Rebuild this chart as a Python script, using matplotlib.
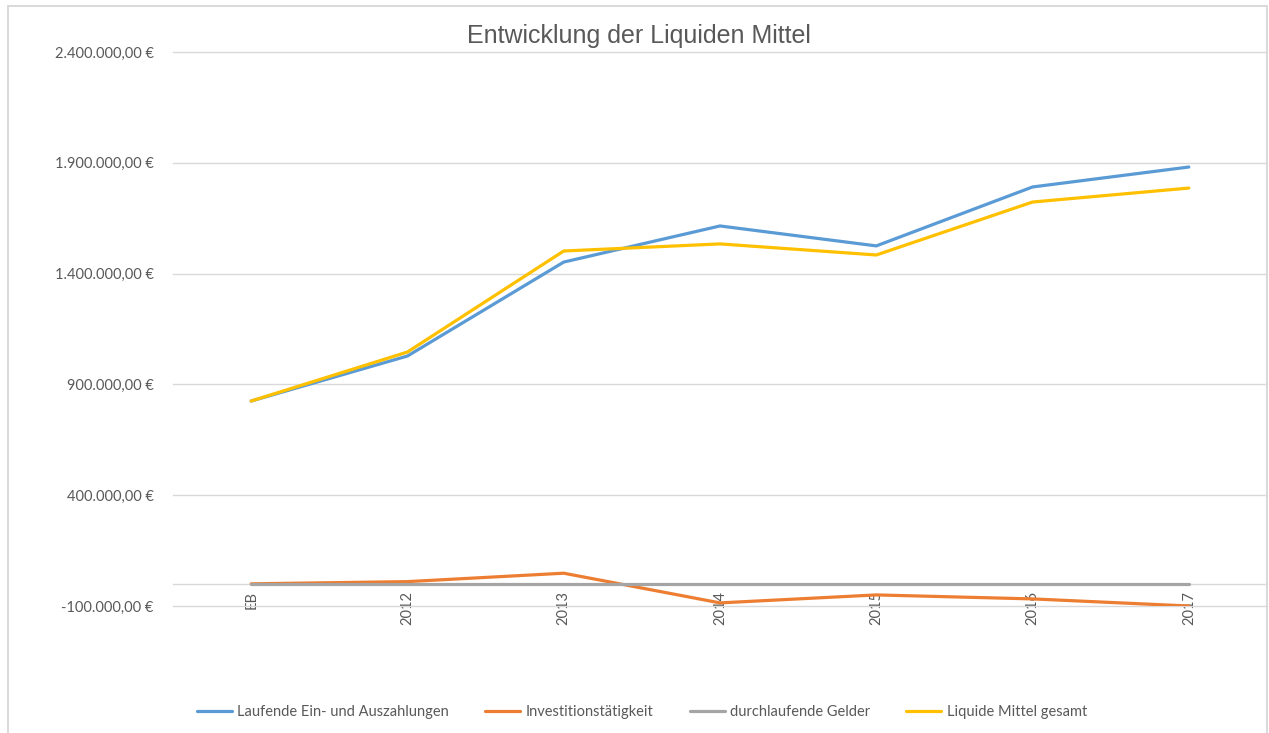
import matplotlib
matplotlib.use("Agg")
import matplotlib.pyplot as plt
from matplotlib.patches import Rectangle
from matplotlib.ticker import FuncFormatter

plt.rcParams['font.family'] = ['Lato', 'DejaVu Sans']

categories = ["EB", "2012", "2013", "2014", "2015", "2016", "2017"]
laufende = [825000, 1028000, 1452000, 1615000, 1525000, 1791000, 1881000]
investition = [0, 10000, 48000, -86000, -50000, -68000, -100000]
durchlaufend = [0, 0, 0, 0, 0, 0, 0]
liquide_gesamt = [825000, 1046000, 1502000, 1534000, 1484000, 1723000, 1786000]
yticks = [-100000, 400000, 900000, 1400000, 1900000, 2400000]

_BLUE, _ORANGE, _GRAY, _YELLOW = "#5B9BD5", "#ED7D31", "#A5A5A5", "#FFC000"
_TXT, _GRID = "#595959", "#D9D9D9"


def euro(v, pos=None):
    s = f"{v:,.2f}".replace(",", "X").replace(".", ",").replace("X", ".")
    return s + " €"


W, H = 1269, 733
fig = plt.figure(figsize=(W / 100, H / 100), dpi=100)
# light chart frame (top/left/right visible, bottom cropped)
fig.patches.append(Rectangle((8 / W, -0.05), 1259 / W, 1.05 - 6 / H, transform=fig.transFigure,
                             fill=False, ec=_GRID, lw=1.4))

ax = fig.add_axes([173 / W, 1 - 606 / H, (1267 - 173) / W, (606 - 52) / H])
x = range(len(categories))
for ys, c, lab in ((laufende, _BLUE, "Laufende Ein- und Auszahlungen"),
                   (investition, _ORANGE, "Investitionstätigkeit"),
                   (durchlaufend, _GRAY, "durchlaufende Gelder"),
                   (liquide_gesamt, _YELLOW, "Liquide Mittel gesamt")):
    ax.plot(x, ys, color=c, lw=2.3, label=lab, solid_capstyle="round", solid_joinstyle="round")

ax.set_xlim(-0.5, len(categories) - 0.5)
ax.set_ylim(yticks[0], yticks[-1])
ax.set_yticks(yticks)
ax.yaxis.set_major_formatter(FuncFormatter(euro))
ax.grid(axis="y", color=_GRID, lw=1.0)
for gl in ax.get_ygridlines():
    gl.set_clip_on(False)
ax.set_axisbelow(True)
for s in ("top", "right", "left"):
    ax.spines[s].set_visible(False)
ax.spines["bottom"].set_position(("data", 0))
ax.spines["bottom"].set_color(_GRID)
ax.spines["bottom"].set_linewidth(1.0)
ax.spines["bottom"].set_zorder(0.5)
ax.set_xticks(list(x))
ax.set_xticklabels(categories, rotation=90, va="top", ha="center")
ax.tick_params(axis="x", length=0, pad=5, labelsize=10.5, colors=_TXT)
ax.tick_params(axis="y", length=0, pad=14, labelsize=10.5, colors=_TXT)

fig.text(639 / W, 1 - 36 / H, "Entwicklung der Liquiden Mittel", ha="center", va="center",
         fontsize=18, color=_TXT, family=["Liberation Sans", "DejaVu Sans"])

fig.legend(loc="center", bbox_to_anchor=(642 / W, 1 - 712 / H), ncol=4, frameon=False,
           fontsize=10.5, labelcolor=_TXT, handlelength=2.4, handletextpad=0.35,
           columnspacing=2.5)

fig.savefig("out.png", dpi=100)
